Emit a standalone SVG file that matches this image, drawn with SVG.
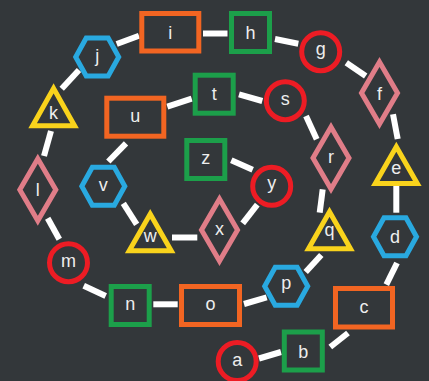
<svg xmlns="http://www.w3.org/2000/svg" width="429" height="381" viewBox="0 0 429 381">
<style>
.n{fill:none;stroke-width:5}
.or{stroke:#f26522}.gr{stroke:#1c9f4a}.rd{stroke:#ed1c24}.bl{stroke:#29a9e0}.ye{stroke:#f9d31c}.pk{stroke:#e07d88}
text{font-family:"Liberation Sans",Arial,sans-serif;font-size:18px;fill:#eeeeee;text-anchor:middle}
#edges line{stroke:#ffffff;stroke-width:6}
</style>
<rect width="429" height="381" fill="#33373a"/>
<g id="edges">
<line x1="259" y1="358.5" x2="281" y2="352"/>
<line x1="330.3" y1="347" x2="348" y2="333"/>
<line x1="386.3" y1="284.7" x2="397" y2="263"/>
<line x1="396.3" y1="186" x2="396.3" y2="212.7"/>
<line x1="393" y1="114.3" x2="397.7" y2="139"/>
<line x1="346.3" y1="62.7" x2="365.7" y2="76"/>
<line x1="275" y1="39" x2="298.3" y2="43.7"/>
<line x1="203" y1="33.5" x2="227.5" y2="33.5"/>
<line x1="116.7" y1="44" x2="139" y2="35.7"/>
<line x1="61.7" y1="88.7" x2="79" y2="70"/>
<line x1="51" y1="131" x2="44" y2="156"/>
<line x1="47.7" y1="218.3" x2="59.3" y2="239.3"/>
<line x1="83.7" y1="285.7" x2="105.7" y2="296"/>
<line x1="153.3" y1="304.3" x2="177.7" y2="304.3"/>
<line x1="244" y1="304" x2="266.7" y2="297.3"/>
<line x1="305.7" y1="272" x2="321.3" y2="255"/>
<line x1="322.7" y1="189.3" x2="319.7" y2="212.7"/>
<line x1="306" y1="116" x2="316.7" y2="139.3"/>
<line x1="239" y1="94.3" x2="262.3" y2="101"/>
<line x1="167.3" y1="106.7" x2="191.7" y2="98.7"/>
<line x1="126" y1="143.3" x2="108.3" y2="161.5"/>
<line x1="123.3" y1="203.3" x2="136.7" y2="224.3"/>
<line x1="172" y1="237.5" x2="197.3" y2="237.5"/>
<line x1="242.7" y1="223.3" x2="257.3" y2="204.7"/>
<line x1="231.3" y1="160.3" x2="252.7" y2="169.7"/>
</g>
<g id="node-a"><circle class="n rd" cx="237.2" cy="361.5" r="19"/><text x="237.2" y="366.2">a</text></g>
<g id="node-b"><rect class="n gr" x="284.3" y="332" width="38" height="38"/><text x="303.3" y="357.6">b</text></g>
<g id="node-c"><rect class="n or" x="335.5" y="288.5" width="57" height="38.5"/><text x="364" y="312.6">c</text></g>
<g id="node-d"><polygon class="n bl" points="373.5,236.7 384,217.7 406,217.7 416.5,236.7 406,255.7 384,255.7"/><text x="395" y="243.3">d</text></g>
<g id="node-e"><polygon class="n ye" points="396.3,146.8 417.3,183.5 375.3,183.5"/><text x="396.3" y="173.9">e</text></g>
<g id="node-f"><polygon class="n pk" points="379.5,62 397.5,93 379.5,124 361.5,93"/><text x="379.5" y="99.6">f</text></g>
<g id="node-g"><circle class="n rd" cx="320.7" cy="51.7" r="19"/><text x="320.7" y="54.5">g</text></g>
<g id="node-h"><rect class="n gr" x="231.5" y="13.5" width="38" height="38"/><text x="250.5" y="38.8">h</text></g>
<g id="node-i"><rect class="n or" x="141.8" y="13.5" width="57" height="37.5"/><text x="170.3" y="38.8">i</text></g>
<g id="node-j"><polygon class="n bl" points="75.7,57 86.2,38 108.2,38 118.7,57 108.2,76 86.2,76"/><text x="97.2" y="61.6">j</text></g>
<g id="node-k"><polygon class="n ye" points="53.6,88.4 74.6,125.8 32.6,125.8"/><text x="53.6" y="119.1">k</text></g>
<g id="node-l"><polygon class="n pk" points="37.8,158.7 55.8,189.7 37.8,220.7 19.8,189.7"/><text x="37.8" y="196.3">l</text></g>
<g id="node-m"><circle class="n rd" cx="68.5" cy="262.7" r="19"/><text x="68.5" y="267.4">m</text></g>
<g id="node-n"><rect class="n gr" x="111.2" y="286.5" width="38" height="38"/><text x="130.2" y="310">n</text></g>
<g id="node-o"><rect class="n or" x="181.5" y="286.5" width="58" height="38"/><text x="210.5" y="310.2">o</text></g>
<g id="node-p"><polygon class="n bl" points="264.7,286.3 275.2,267.3 297.2,267.3 307.7,286.3 297.2,305.3 275.2,305.3"/><text x="286.2" y="289.1">p</text></g>
<g id="node-q"><polygon class="n ye" points="329.5,211.8 350.5,248.7 308.5,248.7"/><text x="329.5" y="236.1">q</text></g>
<g id="node-r"><polygon class="n pk" points="331,127 349,158 331,189 313,158"/><text x="331" y="162.7">r</text></g>
<g id="node-s"><circle class="n rd" cx="285.3" cy="100.7" r="19"/><text x="285.3" y="105.4">s</text></g>
<g id="node-t"><rect class="n gr" x="195.2" y="75.2" width="38" height="38"/><text x="214.2" y="100.1">t</text></g>
<g id="node-u"><rect class="n or" x="106.8" y="98.2" width="57" height="38"/><text x="135.3" y="121.7">u</text></g>
<g id="node-v"><polygon class="n bl" points="81.8,186.3 92.3,167.3 114.3,167.3 124.8,186.3 114.3,205.3 92.3,205.3"/><text x="103.3" y="191">v</text></g>
<g id="node-w"><polygon class="n ye" points="150.2,214.1 171.2,250.8 129.2,250.8"/><text x="150.2" y="241.9">w</text></g>
<g id="node-x"><polygon class="n pk" points="219.5,199 237.5,230 219.5,261 201.5,230"/><text x="219.5" y="234.7">x</text></g>
<g id="node-y"><circle class="n rd" cx="271.7" cy="186.3" r="19"/><text x="271.7" y="189.1">y</text></g>
<g id="node-z"><rect class="n gr" x="186.8" y="140.5" width="38" height="38"/><text x="205.8" y="164.4">z</text></g>
</svg>
